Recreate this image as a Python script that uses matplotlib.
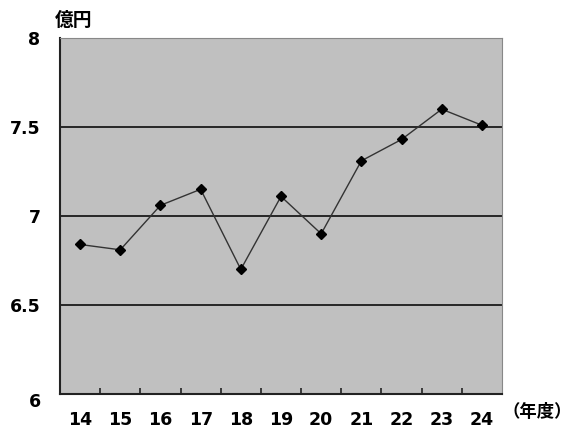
import numpy as np
import matplotlib.pyplot as plt
from matplotlib.transforms import ScaledTranslation

# 年度ごとの値（億円）
years = ["14", "15", "16", "17", "18", "19", "20", "21", "22", "23", "24"]
values = [6.84, 6.81, 7.06, 7.15, 6.70, 7.11, 6.90, 7.31, 7.43, 7.60, 7.51]
y_ticks = [6, 6.5, 7, 7.5, 8]
y_labels = ["6", "6.5", "7", "7.5", "8"]

plt.rcParams['font.family'] = ['DejaVu Sans', 'Noto Sans CJK JP']

fig = plt.figure(figsize=(5.72, 4.30), dpi=100)
ax = fig.add_axes([60 / 572, 36 / 430, 442 / 572, 356 / 430])
ax.set_facecolor('#c0c0c0')

x = np.arange(len(years))
ax.plot(x, values, color='#333333', linewidth=1.0, marker='D', markersize=5.5,
        markerfacecolor='black', markeredgecolor='black', zorder=3)

ax.set_xlim(-0.5, len(years) - 0.5)
ax.set_ylim(6, 8)

# 横線
for v in [6.5, 7, 7.5]:
    ax.axhline(v, color='#1a1a1a', linewidth=1.3, zorder=2)

ax.set_yticks(y_ticks)
ax.set_yticklabels(y_labels, fontsize=12.5, fontweight='bold')
ax.tick_params(axis='y', length=0, pad=14)
# 一番下のラベルは少し下にずれている
lab0 = ax.get_yticklabels()[0]
lab0.set_transform(lab0.get_transform() + ScaledTranslation(0, -6 / 100, fig.dpi_scale_trans))

ax.set_xticks(x)
ax.set_xticklabels(years, fontsize=12.5, fontweight='bold')
ax.set_xticks(np.arange(0.5, len(years) - 0.5, 1), minor=True)
ax.tick_params(axis='x', which='major', length=0, pad=12)
ax.tick_params(axis='x', which='minor', direction='in', length=4, width=1.2, color='#222222')

for s in ['left', 'bottom']:
    ax.spines[s].set_color('#222222')
    ax.spines[s].set_linewidth(1.5)
for s in ['top', 'right']:
    ax.spines[s].set_color('#888888')
    ax.spines[s].set_linewidth(0.8)

fig.text(55 / 572, 1 - 20 / 430, "億円", fontsize=13.5, fontweight='bold',
         family='Noto Sans CJK JP', va='center', ha='left')
fig.text(503 / 572, 1 - 412 / 430, "（年度）", fontsize=12.5, fontweight='bold',
         family='Noto Sans CJK JP', va='center', ha='left')

fig.savefig("out.png", dpi=100)
